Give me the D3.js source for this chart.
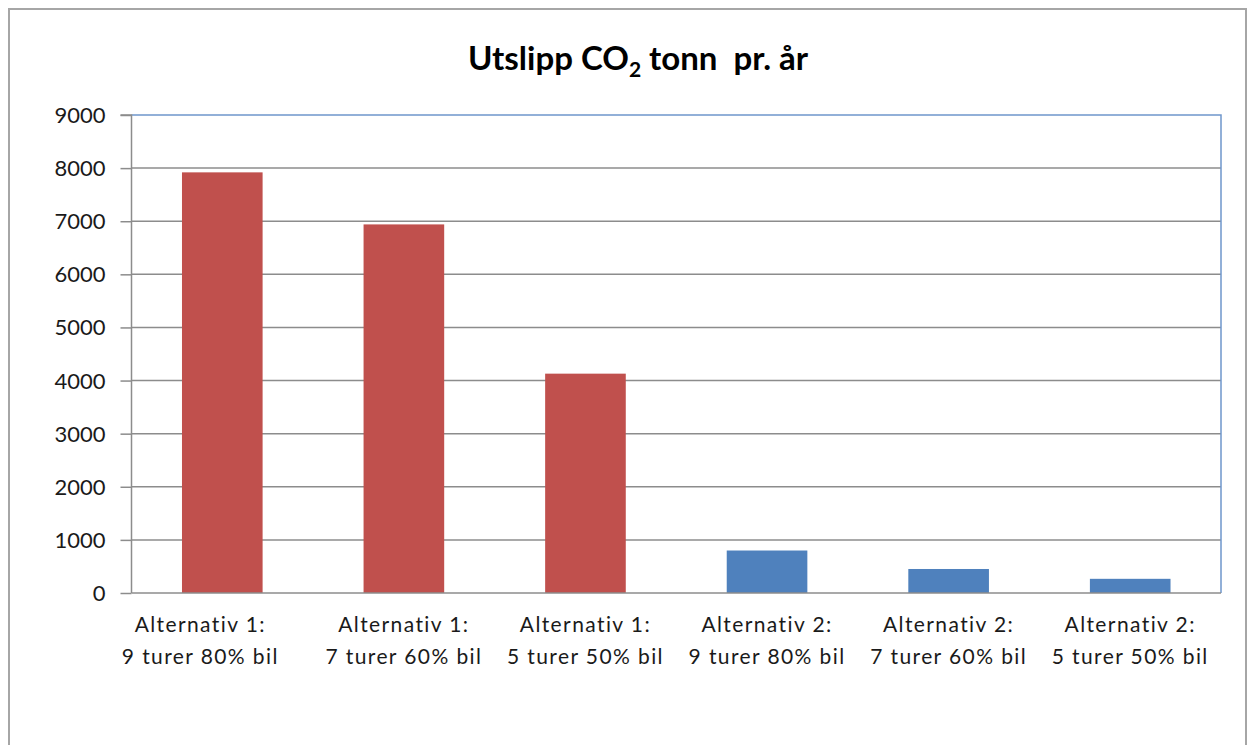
<!DOCTYPE html>
<html>
<head>
<meta charset="utf-8">
<script src="https://cdn.jsdelivr.net/npm/d3@7"></script>
<style>
  html, body { margin: 0; padding: 0; background: #ffffff; }
  svg { display: block; font-family: Lato, "Open Sans", sans-serif; }
</style>
</head>
<body>
<svg id="chart" width="1248" height="745"></svg>
<script>
const categoryLine1 = ["Alternativ 1:", "Alternativ 1:", "Alternativ 1:", "Alternativ 2:", "Alternativ 2:", "Alternativ 2:"];
const categoryLine2 = ["9 turer 80% bil", "7 turer 60% bil", "5 turer 50% bil", "9 turer 80% bil", "7 turer 60% bil", "5 turer 50% bil"];
const values = [7920, 6940, 4130, 800, 452, 267];
const barColors = ["#c0504d", "#c0504d", "#c0504d", "#4f81bd", "#4f81bd", "#4f81bd"];
const yTicks = [0, 1000, 2000, 3000, 4000, 5000, 6000, 7000, 8000, 9000];

const svg = d3.select("#chart");
const plot = { left: 131.5, right: 1221, top: 115, bottom: 593 };

// outer chart frame
svg.append("rect")
  .attr("x", 9).attr("y", 9)
  .attr("width", 1237).attr("height", 800)
  .attr("fill", "#ffffff")
  .attr("stroke", "#a6a6a6").attr("stroke-width", 2);

const idx = d3.range(values.length);
const x = d3.scaleBand().domain(idx).range([plot.left, plot.right]).paddingInner(0.556).paddingOuter(0.278);
const y = d3.scaleLinear().domain([0, 9000]).range([plot.bottom, plot.top]);

// gridlines
svg.append("g").selectAll("line").data(yTicks.filter(d => d > 0 && d < 9000)).join("line")
  .attr("x1", plot.left).attr("x2", plot.right)
  .attr("y1", d => y(d)).attr("y2", d => y(d))
  .attr("stroke", "#8c8c8c").attr("stroke-width", 1.5);

// plot area top/right border (blue)
svg.append("path")
  .attr("d", `M${plot.left},${y(9000)}H${plot.right}V${plot.bottom}`)
  .attr("fill", "none").attr("stroke", "#6f97cc").attr("stroke-width", 1.5);

// bars
svg.append("g").selectAll("rect").data(idx).join("rect")
  .attr("x", i => x(i))
  .attr("width", x.bandwidth())
  .attr("y", i => y(values[i]))
  .attr("height", i => y(0) - y(values[i]))
  .attr("fill", i => barColors[i]);

// y axis
const yAxis = d3.axisLeft(y).tickValues(yTicks).tickSize(11).tickPadding(15).tickFormat(d3.format("d"));
const gy = svg.append("g").attr("transform", `translate(${plot.left},0)`).call(yAxis);
gy.select(".domain").attr("stroke", "#8c8c8c").attr("stroke-width", 1.5).attr("d", `M-11,${y(9000)}H0V${plot.bottom}`);
gy.selectAll(".tick line").attr("stroke", "#8c8c8c").attr("stroke-width", 1.5);
gy.selectAll(".tick text").attr("font-size", 22).attr("fill", "#1a1a1a").attr("font-family", "Lato, sans-serif").attr("dy", "0.34em");

// x axis baseline
svg.append("line")
  .attr("x1", plot.left).attr("x2", plot.right)
  .attr("y1", y(0)).attr("y2", y(0))
  .attr("stroke", "#8c8c8c").attr("stroke-width", 1.5);

// category labels (first label sits slightly left of its bar, as in the original)
const labelX = i => x(i) + x.bandwidth() / 2 - (i === 0 ? 22 : 0);
const labels = svg.append("g").selectAll("text").data(idx).join("text")
  .attr("text-anchor", "middle")
  .attr("font-size", 21)
  .attr("letter-spacing", 1.4)
  .attr("fill", "#1a1a1a")
  .attr("x", labelX);
labels.append("tspan").attr("x", labelX).attr("y", 632).text(i => categoryLine1[i]);
labels.append("tspan").attr("x", labelX).attr("y", 664).text(i => categoryLine2[i]);

// title
const title = svg.append("text")
  .attr("x", 638).attr("y", 70)
  .attr("text-anchor", "middle")
  .attr("font-size", 33).attr("font-weight", "bold").attr("fill", "#000000");
title.append("tspan").text("Utslipp CO");
title.append("tspan").attr("font-size", 21).attr("dy", 7).text("2");
title.append("tspan").attr("dy", -7).text(" tonn  pr. år").attr("style", "white-space:pre");
</script>
</body>
</html>
